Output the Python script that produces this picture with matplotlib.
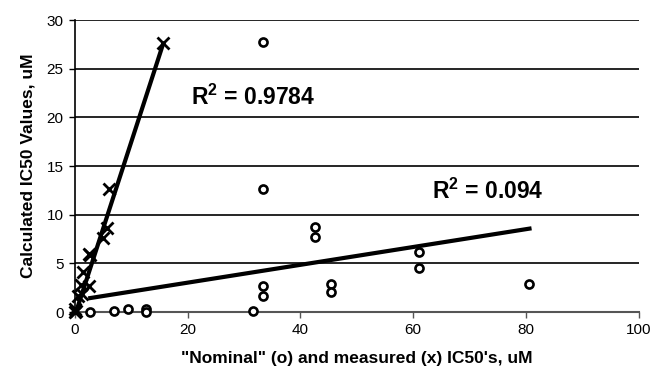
import matplotlib
matplotlib.use("Agg")
import matplotlib.pyplot as plt
import numpy as np

plt.rcParams['font.family'] = ['Liberation Sans', 'DejaVu Sans']
plt.rcParams['mathtext.fontset'] = 'custom'
plt.rcParams['mathtext.rm'] = 'Liberation Sans:bold'
plt.rcParams['mathtext.it'] = 'Liberation Sans:bold'
plt.rcParams['mathtext.bf'] = 'Liberation Sans:bold'

# Nominal IC50 (o) vs calculated
nominal_x = [2.7, 7.0, 9.5, 12.6, 12.6, 31.6, 33.3, 33.3, 33.3, 33.3,
             42.6, 42.6, 45.4, 45.4, 61.1, 61.1, 80.6]
nominal_y = [0.0, 0.13, 0.3, 0.3, 0.03, 0.13, 27.7, 12.6, 2.67, 1.64,
             8.77, 7.68, 2.88, 2.09, 6.13, 4.49, 2.88]

# Measured IC50 (x) vs calculated
measured_x = [15.6, 6.1, 5.8, 5.1, 2.6, 2.7, 1.5, 1.06, 2.5, 1.35, 0.65, 0.0, 0.2, 0.0]
measured_y = [27.6, 12.6, 8.6, 7.6, 6.0, 5.9, 4.1, 2.8, 2.7, 1.9, 1.6, 0.3, 0.1, 0.0]

# Linear trend lines (slope, intercept) and R^2 labels
trend_nominal = (0.0916, 1.18)
trend_measured = (1.784, -0.42)
r2_nominal = "0.094"
r2_measured = "0.9784"

xticks = [0, 20, 40, 60, 80, 100]
yticks = [0, 5, 10, 15, 20, 25, 30]

fig = plt.figure(figsize=(6.55, 3.83), dpi=100)
ax = fig.add_axes([74.7/655, 1-312/383, (638.7-74.7)/655, (312-20)/383])

for y in yticks[1:]:
    ax.axhline(y, color='black', lw=1.2, zorder=1)

# trend lines
xs = np.array([min(nominal_x) - 0.3, max(nominal_x) + 0.4])
ax.plot(xs, trend_nominal[0]*xs + trend_nominal[1], color='black', lw=3.0,
        solid_capstyle='butt', zorder=3)
xm = np.array([0.2, max(measured_x) + 0.1])
ax.plot(xm, trend_measured[0]*xm + trend_measured[1], color='black', lw=3.0,
        solid_capstyle='butt', zorder=3)

ax.plot(nominal_x, nominal_y, linestyle='none', marker='o', markersize=5.8,
        markerfacecolor='white', markeredgecolor='black', markeredgewidth=1.9,
        zorder=4, clip_on=False)
ax.plot(measured_x, measured_y, linestyle='none', marker='x', markersize=8.5,
        markeredgecolor='black', markeredgewidth=2.0, zorder=4, clip_on=False)

ax.text(20.6, 22.1, "R$^{2}$ = " + r2_measured, fontsize=16.5, fontweight='bold',
        va='center', ha='left')
ax.text(63.4, 12.4, "R$^{2}$ = " + r2_nominal, fontsize=16.5, fontweight='bold',
        va='center', ha='left')

ax.set_xlim(0, 100)
ax.set_ylim(0, 30)
ax.set_xticks(xticks)
ax.set_yticks(yticks)
ax.tick_params(axis='both', direction='out', length=4, width=1, labelsize=11,
               color='#555555', pad=4)
ax.tick_params(axis='y', color='black')
for s in ['top', 'right']:
    ax.spines[s].set_visible(False)
ax.spines['left'].set_color('black')
ax.spines['left'].set_linewidth(1.2)
ax.spines['bottom'].set_color('#555555')
ax.spines['bottom'].set_linewidth(1.5)

ax.set_xlabel('"Nominal" (o) and measured (x) IC50\'s, uM', fontsize=12.5,
              fontweight='bold', labelpad=10)
ax.set_ylabel('Calculated IC50 Values, uM', fontsize=12.5, fontweight='bold',
              labelpad=8)

fig.savefig("out.png", dpi=100)
